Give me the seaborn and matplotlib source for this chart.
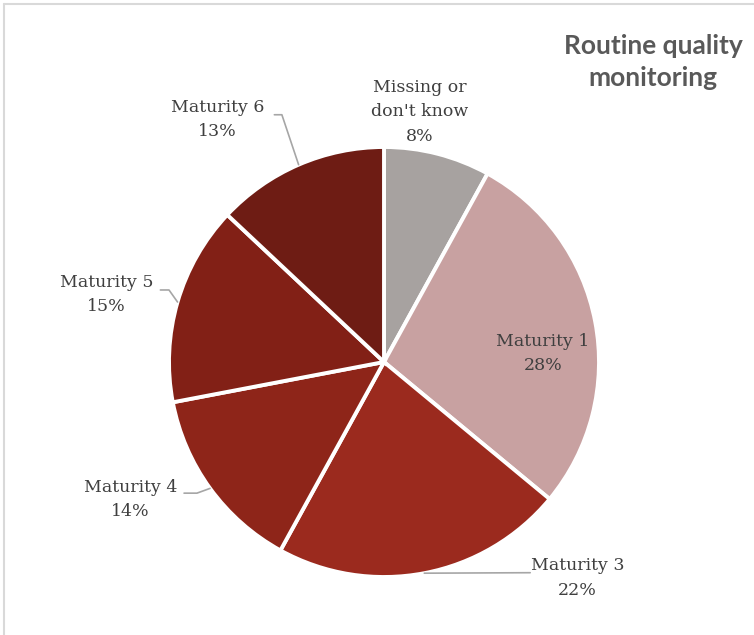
import numpy as np
import seaborn as sns
import matplotlib.pyplot as plt
from matplotlib.lines import Line2D

# data
categories = ['Missing or\ndon\'t know', 'Maturity 1', 'Maturity 3', 'Maturity 4', 'Maturity 5', 'Maturity 6']
shares = [8, 28, 22, 14, 15, 13]
colors = ['#a7a2a0', '#c8a1a1', '#9b2a1e', '#8e2519', '#822016', '#6e1c14']

sns.set_theme(style='white')
plt.rcParams['font.family'] = ['DejaVu Serif']

fig = plt.figure(figsize=(7.54, 6.35), dpi=100)
ax = fig.add_axes([169 / 754, 1 - 577 / 635, 430 / 754, 430 / 635])

wedges, _ = ax.pie(shares, colors=colors, startangle=90, counterclock=False,
                   radius=1, wedgeprops=dict(edgecolor='white', linewidth=2.8))
ax.set_xlim(-1, 1)
ax.set_ylim(-1, 1)
ax.set_aspect('equal')
ax.axis('off')

txt_color = '#3f3f3f'
lead_color = '#a6a6a6'

# label layout: (text x, text y, (elbow x, elbow y, end x)) in pie units
layout = {
    0: (0.165, 1.163, None),
    1: (0.74, 0.04, None),
    2: (0.90, -1.005, (0.68, -0.98, 0.68)),
    3: (-1.18, -0.64, (-0.87, -0.61, -0.93)),
    4: (-1.29, 0.312, (-1.00, 0.335, -1.04)),
    5: (-0.775, 1.128, (-0.475, 1.15, -0.51)),
}

cum = np.cumsum([0] + shares)
for i, (cat, val) in enumerate(zip(categories, shares)):
    mid = (cum[i] + cum[i + 1]) / 2 / 100 * 2 * np.pi
    ex, ey = np.sin(mid), np.cos(mid)
    tx, ty, lead = layout[i]
    ax.text(tx, ty, f'{cat}\n{val}%', ha='center', va='center', fontsize=12.5,
            color=txt_color, linespacing=1.55, clip_on=False)
    if lead is not None:
        bx, by, endx = lead
        ax.add_line(Line2D([ex, bx, endx], [ey, by, by], color=lead_color,
                           lw=1.2, clip_on=False))

fig.text(0.866, 0.903, 'Routine quality\nmonitoring', ha='center', va='center',
         fontsize=19, fontweight='bold', color='#595959', family=['Lato'],
         linespacing=1.4)

# light frame on top and left
fig.add_artist(Line2D([4 / 754, 1], [1 - 4 / 635, 1 - 4 / 635], color='#d9d9d9', lw=1.5))
fig.add_artist(Line2D([4 / 754, 4 / 754], [0, 1 - 4 / 635], color='#d9d9d9', lw=1.5))

fig.savefig('out.png', dpi=100, facecolor='white')
